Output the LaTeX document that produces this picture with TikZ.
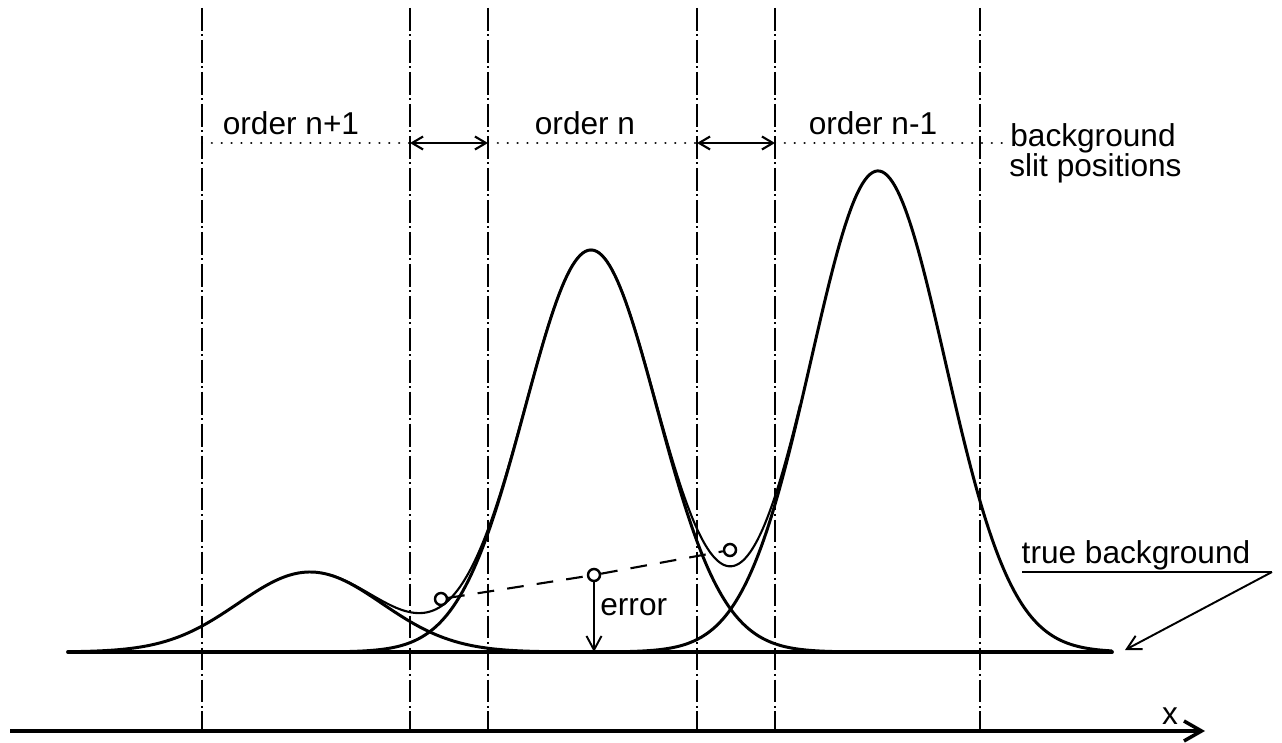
\documentclass[tikz,border=0pt]{standalone}
\usepackage{fontspec}
\setmainfont{Liberation Sans}
\usetikzlibrary{arrows.meta}

\begin{document}
\begin{tikzpicture}[
    x=0.02cm, y=-0.02cm,
    slit/.style={line width=1.5pt, dash pattern=on 13pt off 2pt on 1.2pt off 2pt},
    order/.style={line width=1.7pt},
    total/.style={line width=1.2pt},
    dots/.style={line width=1.4pt, dash pattern=on 0.01pt off 5.6pt, line cap=round},
    span/.style={{Straight Barb[length=2.2mm,width=2.6mm]}-{Straight Barb[length=2.2mm,width=2.6mm]}, line width=1.2pt},
    barb/.style={-{Straight Barb[length=2.8mm,width=3mm]}, line width=1.1pt},
    bgfit/.style={line width=1.2pt, dash pattern=on 9.5pt off 7.5pt},
    meas/.style={circle, draw, fill=white, line width=1.4pt, minimum size=0.24cm, inner sep=0pt},
    lbl/.style={font=\fontsize{18}{18}\selectfont, inner sep=0pt},
    declare function={pk(\x,\c,\s,\h)=\h*exp(-0.5*((\x-\c)/\s)^2);}
]
\useasboundingbox (0,0) rectangle (1282,743);

% three orders and what is seen of them
\draw[order] plot[domain=80:600, samples=160] (\x, {652-pk(\x,310,72,80)});
\draw[order] plot[domain=330:860, samples=200] (\x, {652-pk(\x,591,66,402)});
\draw[order] plot[domain=610:1112, samples=200] (\x, {652-pk(\x,878,67,481)});
\draw[total] plot[domain=330:800, samples=200]
    (\x, {652-pk(\x,310,72,80)-pk(\x,591,66,402)-pk(\x,878,67,481)});

% slit positions
\foreach \x/\n in {202/1, 410/2, 488/3, 697/4, 775/5, 980/6} {
    \coordinate (top\n) at (\x,8);
    \coordinate (bot\n) at (\x,731);
    \coordinate (mark\n) at (\x,143);
    \draw[slit] (top\n) -- (bot\n);
}
\coordinate (dotend) at (1010,143);

\draw[dots] (mark1) -- (mark2);
\draw[span] (mark2) -- (mark3);
\draw[dots] (mark3) -- (mark4);
\draw[span] (mark4) -- (mark5);
\draw[dots] (mark5) -- (dotend);

\node[lbl, anchor=base] (ordA) at (291,135) {order n+1};
\node[lbl, anchor=base] (ordB) at (585,135) {order n};
\node[lbl, anchor=base] (ordC) at (873,135) {order n-1};
\node[lbl, anchor=base west] (bgA) at (1010,147) {background};
\node[lbl, anchor=base west] (bgB) at (1009,177) {slit positions};

% true background and x axis
\coordinate (bl) at (68,652);
\coordinate (br) at (1112,652);
\draw[line width=2.2pt, line cap=round] (bl) -- (br);

\coordinate (axl) at (10,731);
\coordinate (axr) at (1205,731);
\draw[line width=2pt, -{Straight Barb[length=3.5mm,width=4mm]}] (axl) -- (axr);
\node[lbl, anchor=base] (xlab) at (1170,724) {x};

% background measured between the orders
\node[meas] (ptA) at (441,599) {};
\node[meas] (ptB) at (730,550) {};
\node[meas] (ptE) at (594,575) {};
\draw[bgfit] (ptA) -- (ptE);
\draw[bgfit] (ptE) -- (ptB);

\coordinate (errbot) at (594,652);
\draw[barb] (ptE) -- (errbot);
\node[lbl, anchor=base west] (err) at (600,615) {error};

\node[lbl, anchor=base] (tbg) at (1136,563) {true background};
\coordinate (ul) at (1022,572);
\coordinate (ur) at (1272,572);
\coordinate (tbtip) at (1125,650);
\draw[line width=1.1pt] (ul) -- (ur);
\draw[barb] (ur) -- (tbtip);

\end{tikzpicture}
\end{document}
